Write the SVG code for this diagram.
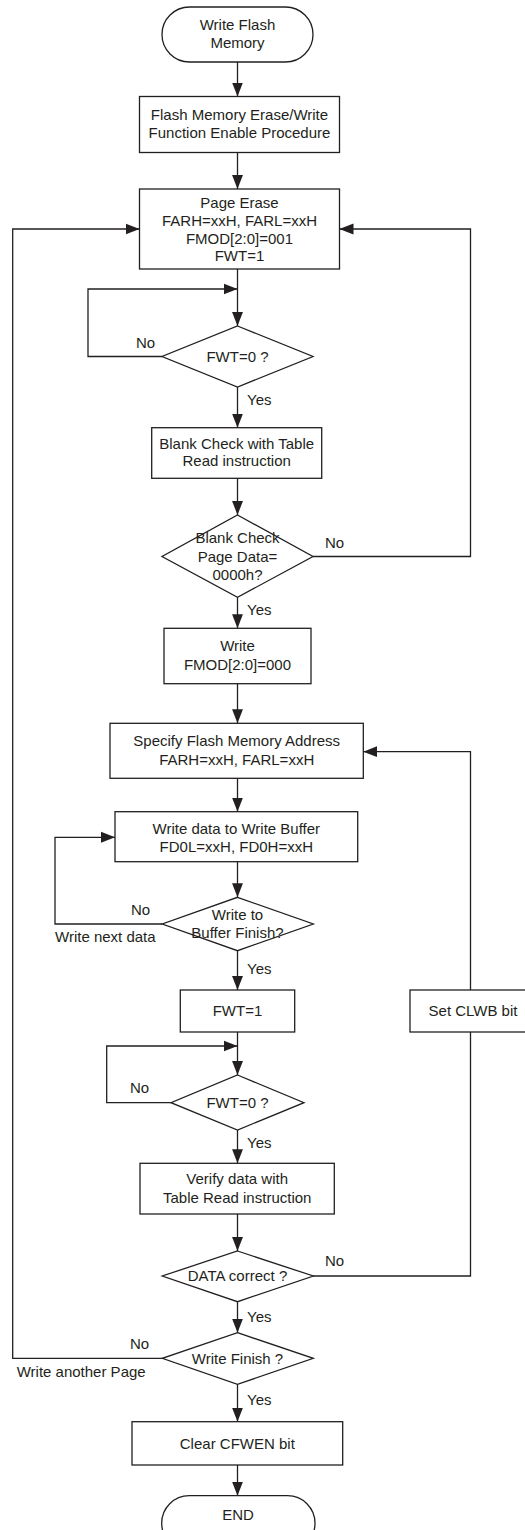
<svg xmlns="http://www.w3.org/2000/svg" width="525" height="1530" viewBox="0 0 525 1530">
<style>
.s{fill:#fff;stroke:#231f20;stroke-width:1.3}
.c{fill:none;stroke:#231f20;stroke-width:1.3}
text{font-family:"Liberation Sans",Arial,sans-serif;font-size:15px;fill:#231f20}
.m{text-anchor:middle}
</style>
<defs>
<marker id="ah" markerUnits="userSpaceOnUse" markerWidth="14" markerHeight="18" viewBox="0 0 18 14" refX="18" refY="7" orient="auto">
<path d="M0,0 L18,7 L0,14 Z" fill="#231f20"/>
</marker>
</defs>
<g id="connectors">
<path class="c" marker-end="url(#ah)" d="M237.5,62 V96.5"/>
<path class="c" marker-end="url(#ah)" d="M237.5,152.5 V189"/>
<path class="c" marker-end="url(#ah)" d="M237.5,269 V326"/>
<path class="c" marker-end="url(#ah)" d="M162,356.5 H88 V289 H237.5"/>
<path class="c" marker-end="url(#ah)" d="M237.5,387 V427.7"/>
<path class="c" marker-end="url(#ah)" d="M237.5,478.3 V515"/>
<path class="c" marker-end="url(#ah)" d="M313,556.5 H470.5 V229 H339.5"/>
<path class="c" marker-end="url(#ah)" d="M237.5,597.3 V628.3"/>
<path class="c" marker-end="url(#ah)" d="M237.5,683.7 V723.3"/>
<path class="c" marker-end="url(#ah)" d="M237.5,778.3 V811.7"/>
<path class="c" marker-end="url(#ah)" d="M162.3,924 H55 V837.3 H115"/>
<path class="c" marker-end="url(#ah)" d="M237.5,861.7 V897.3"/>
<path class="c" marker-end="url(#ah)" d="M237.5,950.7 V990"/>
<path class="c" marker-end="url(#ah)" d="M237.5,1032 V1075"/>
<path class="c" marker-end="url(#ah)" d="M171,1102.7 H106.7 V1046 H237.5"/>
<path class="c" marker-end="url(#ah)" d="M237.5,1130 V1163.3"/>
<path class="c" marker-end="url(#ah)" d="M237.5,1214 V1251"/>
<path class="c" d="M313.3,1276 H470.5 V1032"/>
<path class="c" marker-end="url(#ah)" d="M470.5,990 V751.7 H363.3"/>
<path class="c" marker-end="url(#ah)" d="M237.5,1301.7 V1332.7"/>
<path class="c" marker-end="url(#ah)" d="M162.3,1358.3 H12.7 V229 H139.5"/>
<path class="c" marker-end="url(#ah)" d="M237.5,1384.3 V1421.7"/>
<path class="c" marker-end="url(#ah)" d="M237.5,1465 V1495.7"/>
</g>
<g id="labels">
<text x="136" y="348">No</text>
<text x="247" y="405">Yes</text>
<text x="325" y="547.5">No</text>
<text x="247" y="615">Yes</text>
<text x="131" y="915">No</text>
<text x="55" y="942">Write next data</text>
<text x="247" y="973.5">Yes</text>
<text x="130" y="1093">No</text>
<text x="247" y="1147.5">Yes</text>
<text x="325" y="1266">No</text>
<text x="247" y="1322">Yes</text>
<text x="130" y="1348.5">No</text>
<text x="16.7" y="1377">Write another Page</text>
<text x="247" y="1405">Yes</text>
</g>
<g id="start">
<rect class="s" x="162" y="7" width="151" height="55" rx="27.5"/>
<text class="m" x="237.5" y="30">Write Flash</text>
<text class="m" x="237.5" y="48">Memory</text>
</g>
<g id="enable">
<rect class="s" x="139.5" y="96.5" width="200" height="56"/>
<text class="m" x="239.5" y="120">Flash Memory Erase/Write</text>
<text class="m" x="239.5" y="138">Function Enable Procedure</text>
</g>
<g id="pageErase">
<rect class="s" x="139.5" y="189" width="200" height="80"/>
<text class="m" x="239.5" y="207.5">Page Erase</text>
<text class="m" x="239.5" y="225.5">FARH=xxH, FARL=xxH</text>
<text class="m" x="239.5" y="243.5">FMOD[2:0]=001</text>
<text class="m" x="239.5" y="261">FWT=1</text>
</g>
<g id="fwt1">
<polygon class="s" points="237.5,326 313,356.5 237.5,387 162,356.5"/>
<text class="m" x="237.5" y="362">FWT=0 ?</text>
</g>
<g id="blankCheck">
<rect class="s" x="151.7" y="427.7" width="170" height="50.6"/>
<text class="m" x="236.7" y="448.5">Blank Check with Table</text>
<text class="m" x="236.7" y="466">Read instruction</text>
</g>
<g id="blankDecision">
<polygon class="s" points="237.5,515 313,556.5 237.5,597.3 162,556.5"/>
<text class="m" x="237.5" y="543">Blank Check</text>
<text class="m" x="237.5" y="562">Page Data=</text>
<text class="m" x="237.5" y="580">0000h?</text>
</g>
<g id="writeMode">
<rect class="s" x="164" y="628.3" width="147" height="55.4"/>
<text class="m" x="237.5" y="651">Write</text>
<text class="m" x="237.5" y="669.5">FMOD[2:0]=000</text>
</g>
<g id="specify">
<rect class="s" x="110" y="723.3" width="253.3" height="55"/>
<text class="m" x="236.7" y="746">Specify Flash Memory Address</text>
<text class="m" x="236.7" y="765">FARH=xxH, FARL=xxH</text>
</g>
<g id="writeData">
<rect class="s" x="115" y="811.7" width="242.7" height="50"/>
<text class="m" x="236.3" y="833.5">Write data to Write Buffer</text>
<text class="m" x="236.3" y="852">FD0L=xxH, FD0H=xxH</text>
</g>
<g id="bufferFinish">
<polygon class="s" points="237.5,897.3 313.3,924 237.5,950.7 162.3,924"/>
<text class="m" x="237.5" y="920">Write to</text>
<text class="m" x="237.5" y="938">Buffer Finish?</text>
</g>
<g id="fwtSet">
<rect class="s" x="180.3" y="990" width="114.4" height="42"/>
<text class="m" x="237.5" y="1016">FWT=1</text>
</g>
<g id="setClwb">
<rect class="s" x="410" y="990" width="126" height="42"/>
<text class="m" x="473" y="1016">Set CLWB bit</text>
</g>
<g id="fwt2">
<polygon class="s" points="237.5,1075 304,1102.7 237.5,1130 171,1102.7"/>
<text class="m" x="237.5" y="1108">FWT=0 ?</text>
</g>
<g id="verify">
<rect class="s" x="140" y="1163.3" width="194.3" height="50.7"/>
<text class="m" x="237.2" y="1184">Verify data with</text>
<text class="m" x="237.2" y="1202.5">Table Read instruction</text>
</g>
<g id="dataCorrect">
<polygon class="s" points="237.5,1251 313.3,1276 237.5,1301.7 162.3,1276"/>
<text class="m" x="237.5" y="1281">DATA correct ?</text>
</g>
<g id="writeFinish">
<polygon class="s" points="237.5,1332.7 313.3,1358.3 237.5,1384.3 162.3,1358.3"/>
<text class="m" x="237.5" y="1363.5">Write Finish ?</text>
</g>
<g id="clearCfwen">
<rect class="s" x="132" y="1421.7" width="210.7" height="43.3"/>
<text class="m" x="237.3" y="1448.5">Clear CFWEN bit</text>
</g>
<g id="end">
<rect class="s" x="161.7" y="1495.7" width="153.3" height="55" rx="27.5"/>
<text class="m" x="238" y="1520">END</text>
</g>
</svg>
